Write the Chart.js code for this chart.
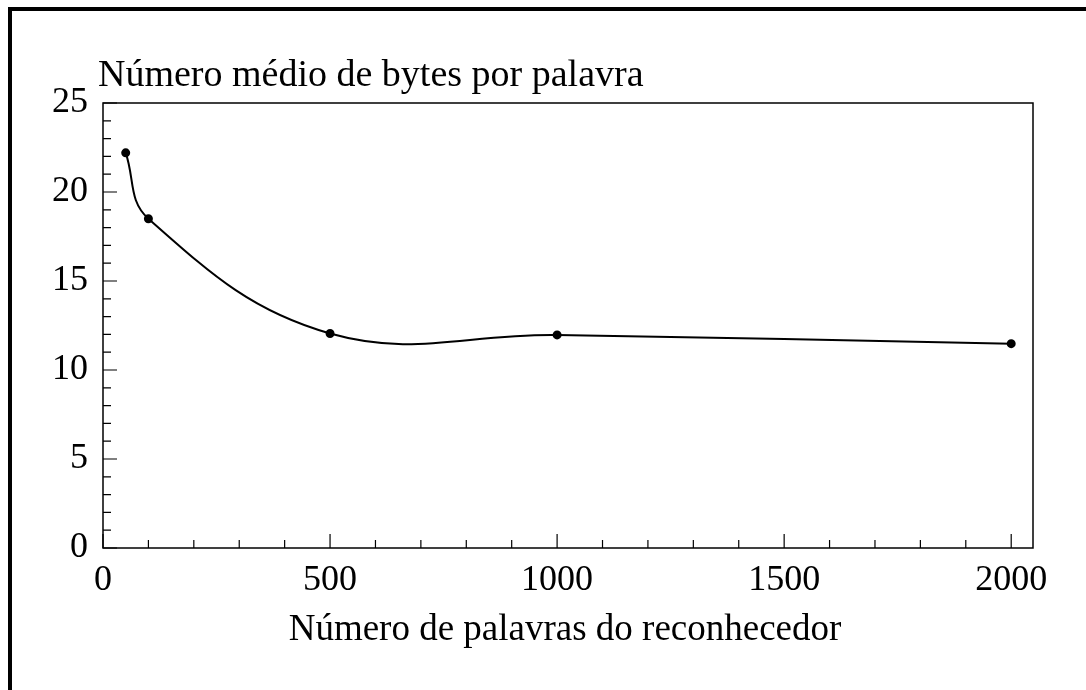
<!DOCTYPE html>
<html>
<head>
<meta charset="utf-8">
<script src="https://cdn.jsdelivr.net/npm/chart.js@4.4.0/dist/chart.umd.min.js"></script>
<style>
  html, body { margin: 0; padding: 0; background: #fff; }
  #wrap { position: relative; width: 1086px; height: 690px; overflow: hidden; }
  #frame { position: absolute; left: 8px; top: 7px; width: 1200px; height: 800px;
           border-left: 4px solid #000; border-top: 4px solid #000; box-sizing: border-box; }
  canvas { position: absolute; left: 0; top: 0; }
</style>
</head>
<body>
<div id="wrap">
  <div id="frame"></div>
  <canvas id="c" width="1086" height="690"></canvas>
</div>
<script>
// ---- data ----
const wordCounts = [50, 100, 500, 1000, 2000];
const bytesPerWord = [22.2, 18.5, 12.05, 11.97, 11.48];
const xTickLabels = [0, 500, 1000, 1500, 2000];
const yTickLabels = [0, 5, 10, 15, 20, 25];
const titleText = "Número médio de bytes por palavra";
const xAxisText = "Número de palavras do reconhecedor";

const FONT = "'Liberation Serif', 'Times New Roman', serif";

const points = wordCounts.map((x, i) => ({ x: x, y: bytesPerWord[i] }));

const frameTicks = {
  id: 'frameTicks',
  afterDraw(chart) {
    const { ctx, chartArea: a, scales } = chart;
    const xs = scales.x, ys = scales.y;
    ctx.save();
    ctx.strokeStyle = '#000';
    ctx.lineWidth = 1.5;
    ctx.strokeRect(a.left, a.top, a.right - a.left, a.bottom - a.top);
    ctx.lineWidth = 1.2;
    ctx.beginPath();
    xs.ticks.forEach(t => {
      const px = xs.getPixelForValue(t.value);
      const len = xTickLabels.includes(t.value) ? 14 : 8;
      ctx.moveTo(px, a.bottom);
      ctx.lineTo(px, a.bottom - len);
    });
    ys.ticks.forEach(t => {
      const py = ys.getPixelForValue(t.value);
      const len = yTickLabels.includes(t.value) ? 14 : 8;
      ctx.moveTo(a.left, py);
      ctx.lineTo(a.left + len, py);
    });
    ctx.stroke();
    ctx.fillStyle = '#000';
    ctx.textBaseline = 'alphabetic';
    ctx.font = '38px ' + FONT;
    ctx.textAlign = 'left';
    ctx.fillText(titleText, 98, 86);
    ctx.font = '37px ' + FONT;
    ctx.textAlign = 'center';
    ctx.fillText(xAxisText, (a.left + a.right) / 2 - 3, 640);
    ctx.restore();
  }
};

new Chart(document.getElementById('c'), {
  type: 'line',
  data: {
    datasets: [{
      data: points,
      borderColor: '#000',
      backgroundColor: '#000',
      borderWidth: 2,
      pointRadius: 3.5,
      pointHoverRadius: 3.5,
      tension: 0.4,
      fill: false
    }]
  },
  options: {
    responsive: false,
    animation: false,
    events: [],
    layout: { padding: { left: 10, top: 103, right: 53, bottom: 0 } },
    plugins: { legend: { display: false }, tooltip: { enabled: false }, title: { display: false } },
    scales: {
      x: {
        type: 'linear', min: 0, max: 2048,
        afterBuildTicks(scale) {
          const t = [];
          for (let v = 0; v <= 2000; v += 100) t.push({ value: v });
          scale.ticks = t;
        },
        afterFit(scale) { scale.height = 690 - 548; },
        grid: { display: false, drawTicks: false },
        border: { display: false },
        ticks: {
          autoSkip: false, maxRotation: 0, padding: 11,
          color: '#000', font: { family: FONT, size: 36 },
          callback: v => xTickLabels.includes(v) ? String(v) : ''
        }
      },
      y: {
        type: 'linear', min: 0, max: 25,
        afterBuildTicks(scale) {
          const t = [];
          for (let v = 0; v <= 25; v += 1) t.push({ value: v });
          scale.ticks = t;
        },
        afterFit(scale) { scale.width = 103 - 10; },
        grid: { display: false, drawTicks: false },
        border: { display: false },
        ticks: {
          autoSkip: false, padding: 15,
          color: '#000', font: { family: FONT, size: 36 },
          callback: v => yTickLabels.includes(v) ? String(v) : ''
        }
      }
    }
  },
  plugins: [frameTicks]
});
</script>
</body>
</html>
